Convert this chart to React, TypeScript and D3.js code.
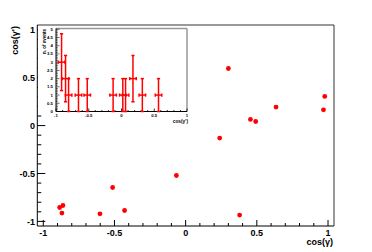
import React from "react";
import * as d3 from "d3";

// Main scatter: cos(gamma) vs cos(gamma')
const cosGamma = [-0.885, -0.862, -0.869, -0.602, -0.513, -0.429, -0.065, 0.239, 0.379, 0.455, 0.492, 0.300, 0.635, 0.977, 0.968];
const cosGammaPrime = [-0.855, -0.834, -0.913, -0.921, -0.646, -0.886, -0.521, -0.130, -0.934, 0.064, 0.043, 0.596, 0.193, 0.304, 0.165];

// Inset histogram: n. of events vs cos(gamma')
const insetX = [-0.915, -0.854, -0.808, -0.657, -0.523, -0.128, 0.02, 0.062, 0.175, 0.318, 0.565];
const insetCount = [3, 2, 1, 1, 1, 1, 1, 1, 2, 1, 1];
const insetYErr = [1.73, 1.41, 1, 1, 1, 1, 1, 1, 1.41, 1, 1];
const insetXErr = [0.05, 0.05, 0.05, 0.05, 0.05, 0.05, 0.05, 0.05, 0.05, 0.05, 0.05];

const mainTicks = [-1, -0.5, 0, 0.5, 1];
const mainTickLabels = ["-1", "-0.5", "0", "0.5", "1"];
const insetXTicks = [-1, -0.5, 0, 0.5, 1];
const insetXTickLabels = ["-1", "-0.5", "0", "0.5", "1"];
const insetYTicks = [0, 0.5, 1, 1.5, 2, 2.5, 3, 3.5, 4, 4.5, 5];
const insetYTickLabels = ["0", "0.5", "1", "1.5", "2", "2.5", "3", "3.5", "4", "4.5", "5"];

const RED = "#ff0000";
const FONT = "'Liberation Sans', Arial, Helvetica, sans-serif";

export default function App() {
  const W = 372, H = 252;
  // main frame
  const fL = 37.3, fR = 334, fT = 25, fB = 226;
  const x = d3.scaleLinear().domain([-1.042, 1.042]).range([fL, fR]);
  const y = d3.scaleLinear().domain([-1.048, 1.05]).range([fB, fT]);
  const minor = d3.range(-10, 11).map((i) => i / 10);

  // inset frame
  const iL = 56, iR = 187, iT = 28.5, iB = 111.5;
  const ix = d3.scaleLinear().domain([-1, 1]).range([iL, iR]);
  const iy = d3.scaleLinear().domain([0, 5.05]).range([iB, iT]);
  const iMinorX = d3.range(-10, 11).map((i) => i / 10);
  const iMinorY = d3.range(0, 51).map((i) => i / 10);

  return (
    <svg width={W} height={H} style={{ position: "absolute", left: 0, top: 0, background: "#fff" }} fontFamily={FONT}>
      <rect x={0} y={0} width={W} height={H} fill="#fff" />
      {/* main frame */}
      <line x1={fL} x2={fR} y1={fT} y2={fT} stroke="#999" strokeWidth={2} />
      <line x1={fR} x2={fR} y1={fT} y2={fB} stroke="#333" strokeWidth={1} />
      <line x1={fL} x2={fR} y1={fB} y2={fB} stroke="#000" strokeWidth={1} />
      <line x1={fL} x2={fL} y1={fT} y2={fB} stroke="#000" strokeWidth={1} />
      {/* main x ticks */}
      {minor.map((v, i) => {
        const major = mainTicks.includes(v);
        return <line key={"mx" + i} x1={x(v)} x2={x(v)} y1={fB} y2={fB - (major ? 6 : 3)} stroke="#000" strokeWidth={1} />;
      })}
      {minor.map((v, i) => {
        const major = mainTicks.includes(v);
        return <line key={"my" + i} y1={y(v)} y2={y(v)} x1={fL} x2={fL + (major ? 8 : 4)} stroke="#000" strokeWidth={1} />;
      })}
      {mainTicks.map((v, i) => (
        <text key={"xl" + i} x={x(v)} y={236} fontSize={9} fontWeight="bold" textAnchor="middle" fill="#000">
          {mainTickLabels[i]}
        </text>
      ))}
      {mainTicks.map((v, i) => (
        <text key={"yl" + i} x={35} y={y(v) + 3.2} fontSize={9} fontWeight="bold" textAnchor="end" fill="#000">
          {mainTickLabels[i]}
        </text>
      ))}
      <text x={333} y={245} fontSize={9} fontWeight="bold" textAnchor="end" fill="#000">cos(γ)</text>
      <text transform={`translate(17.5,26) rotate(-90)`} fontSize={9} fontWeight="bold" textAnchor="end" fill="#000">cos(γ')</text>

      {/* scatter */}
      {cosGamma.map((v, i) => (
        <circle key={"p" + i} cx={x(v)} cy={y(cosGammaPrime[i])} r={2.4} fill={RED} />
      ))}

      {/* inset pad */}
      <rect x={38} y={26} width={150} height={86.5} fill="#fff" />
      <line x1={iL} x2={iR} y1={iT} y2={iT} stroke="#999" strokeWidth={1.5} />
      <line x1={iR} x2={iR} y1={iT} y2={iB} stroke="#999" strokeWidth={1.5} />
      <line x1={iL} x2={iR} y1={iB} y2={iB} stroke="#000" strokeWidth={1} />
      <line x1={iL} x2={iL} y1={iT} y2={iB} stroke="#000" strokeWidth={1} />
      {iMinorX.map((v, i) => {
        const major = insetXTicks.includes(v);
        return <line key={"ix" + i} x1={ix(v)} x2={ix(v)} y1={iB} y2={iB - (major ? 3 : 1.5)} stroke="#000" strokeWidth={0.8} />;
      })}
      {iMinorY.map((v, i) => {
        const major = Math.abs(v * 2 - Math.round(v * 2)) < 1e-6;
        return <line key={"iy" + i} y1={iy(v)} y2={iy(v)} x1={iL} x2={iL + (major ? 3.5 : 1.8)} stroke="#000" strokeWidth={0.6} />;
      })}
      {insetXTicks.map((v, i) => (
        <text key={"ixl" + i} x={ix(v)} y={116.5} fontSize={4.3} fontWeight="bold" textAnchor="middle" fill="#000">
          {insetXTickLabels[i]}
        </text>
      ))}
      {insetYTicks.map((v, i) => (
        <text key={"iyl" + i} x={53} y={iy(v) + 1.5} fontSize={4.3} fontWeight="bold" textAnchor="end" fill="#000">
          {insetYTickLabels[i]}
        </text>
      ))}
      <text x={188} y={122.5} fontSize={4.8} fontWeight="bold" textAnchor="end" fill="#000">cos(γ')</text>
      <text transform={`translate(46,29) rotate(-90)`} fontSize={4.5} fontWeight="bold" textAnchor="end" fill="#000">n. of events</text>

      {/* inset error bars */}
      {insetX.map((v, i) => {
        const cx = ix(v);
        const cy = iy(insetCount[i]);
        const x0 = ix(v - insetXErr[i]);
        const x1 = ix(v + insetXErr[i]);
        const y0 = iy(Math.max(0, insetCount[i] - insetYErr[i]));
        const y1 = iy(insetCount[i] + insetYErr[i]);
        const c = 1.6;
        return (
          <g key={"e" + i} stroke={RED} strokeWidth={1.5} fill="none">
            <line x1={x0} x2={x1} y1={cy} y2={cy} />
            <line x1={cx} x2={cx} y1={y0} y2={y1} />
            <line x1={x0} x2={x0} y1={cy - c} y2={cy + c} />
            <line x1={x1} x2={x1} y1={cy - c} y2={cy + c} />
            <line x1={cx - c} x2={cx + c} y1={y0} y2={y0} />
            <line x1={cx - c} x2={cx + c} y1={y1} y2={y1} />
          </g>
        );
      })}
    </svg>
  );
}
